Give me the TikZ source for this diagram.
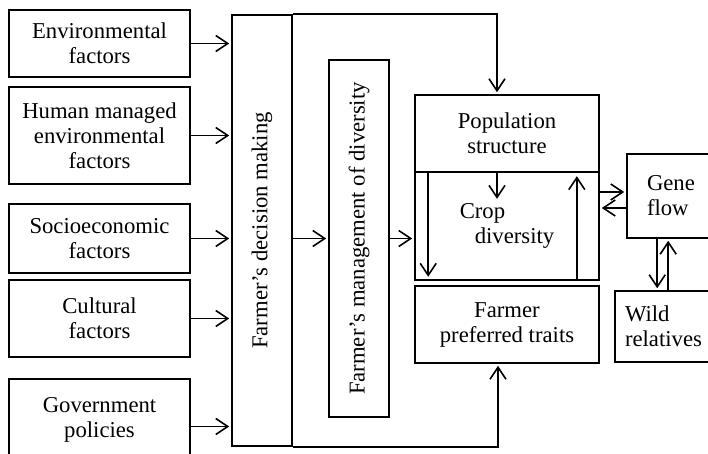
\documentclass[tikz,border=0pt]{standalone}
\usepackage{fontspec}
\setmainfont{Liberation Serif}
\usetikzlibrary{arrows.meta,calc,positioning}

\tikzset{
  box/.style={draw, line width=1.6pt, inner sep=0pt, align=center},
  sidebox/.style={box, minimum width=181pt},
  midbox/.style={box, minimum width=184pt},
  arr/.style={-{Straight Barb[length=12pt,width=16pt]}, line width=1.6pt, shorten >=2pt},
  ln/.style={line width=1.6pt}
}

\begin{document}
\begin{tikzpicture}[x=1pt, y=-1pt, font=\fontsize{22.7}{25}\selectfont]
            \useasboundingbox (0,0) rectangle (708,454);
            \clip (0,0) rectangle (708,454);
            % Factors on the left
            \node[sidebox, minimum height=67pt] (env) at (99.5,43.5) {Environmental\\factors};
            \node[sidebox, minimum height=97pt] (hum) at (99.5,135.5) {Human managed\\environmental\\factors};
            \node[sidebox, minimum height=69pt] (soc) at (99.5,238.5) {Socioeconomic\\factors};
            \node[sidebox, minimum height=77pt] (cul) at (99.5,318.5) {Cultural\\factors};
            \node[sidebox, minimum height=81pt] (gov) at (99.5,419.5) {Government\\policies};
            % Decision making and management
            \node[box, minimum width=60pt, minimum height=431pt] (dec) at (262,230.5) {\rotatebox{90}{Farmer’s decision making}};
            \node[box, minimum width=60pt, minimum height=357pt] (man) at (359,238.5) {\rotatebox{90}{Farmer’s management of diversity}};
            % Middle column
            \node[midbox, minimum height=77pt] (pop) at (507,133.5) {Population\\structure};
            \node[midbox, minimum height=108pt, align=left] (crop) at (507,226) {Crop\\\hspace*{15pt}diversity};
            \node[midbox, minimum height=77pt] (pref) at (507,324.5) {Farmer\\preferred traits};
            % Right column
            \node[box, minimum width=90pt, minimum height=84pt, text width=50pt, align=left] (gene) at (672,196) {Gene\\flow};
            \node[box, minimum width=100pt, minimum height=71pt, text width=80pt, align=left] (wild) at (665,326.5) {Wild\\relatives};
            % Inputs to decision making
            \foreach \f in {env,hum,soc,cul}
              \draw[arr] (\f.east) -- (\f.east -| dec.west);
            \draw[arr] ([yshift=-7pt]gov.east) -- ([yshift=-7pt]gov.east -| dec.west);
            % Decision making to management to crop diversity
            \draw[arr] (dec.east |- man.west) -- (man.west);
            \draw[arr] (man.east) -- (man.east -| crop.west);
            % Lines round the top and the bottom
            \draw[arr] (dec.north east) -| ([xshift=-10pt]pop.north);
            \draw[arr] (dec.south east) -| ([xshift=-9pt]pref.south);
            % Inside population structure / crop diversity
            \coordinate (pc) at ([xshift=-10pt,yshift=-28pt]pop.south);
            \draw[arr] ([xshift=-10pt]pop.south) -- (pc);
            \draw[arr] ([xshift=14pt]crop.north west) -- ([xshift=14pt,yshift=2pt]crop.south west);
            \draw[arr] ([xshift=-23pt]crop.south east) -- ([xshift=-23pt,yshift=-3pt]crop.north east);
            % Gene flow and wild relatives
            \draw[arr] ([yshift=4pt]gene.west -| crop.east) -- ([yshift=4pt]gene.west);
            \draw[arr] ([yshift=-12pt]gene.west) -- ([yshift=-12pt]gene.west -| crop.east);
            \draw[arr] ([xshift=31pt]gene.south west) -- ([xshift=31pt]gene.south west |- wild.north);
            \draw[arr] ([xshift=42pt]gene.south west |- wild.north) -- ([xshift=42pt]gene.south west);
          \end{tikzpicture}
\end{document}
